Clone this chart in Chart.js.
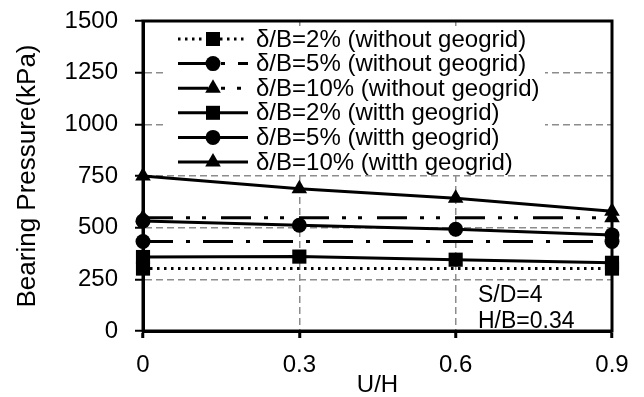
<!DOCTYPE html>
<html>
<head>
<meta charset="utf-8">
<script src="https://cdn.jsdelivr.net/npm/chart.js@4"></script>
<style>
  body { margin: 0; background: #fff; }
  canvas { display: block; }
</style>
</head>
<body>
<canvas id="pressureChart" width="644" height="397"></canvas>
<script>
// U/H positions
const uhWith = [0, 0.3, 0.6, 0.9];
const uhWithout = [0, 0.9];

// bearing pressure (kPa) with geogrid
const with2 = [358, 360, 345, 330];
const with5 = [532, 512, 492, 465];
const with10 = [750, 688, 642, 580];

// bearing pressure (kPa) without geogrid
const without2 = [302, 302];
const without5 = [433, 433];
const without10 = [548, 548];

const xTicks = [0, 0.3, 0.6, 0.9];
const yTicks = [0, 250, 500, 750, 1000, 1250, 1500];

const legendLabels = [
    "δ/B=2% (without geogrid)",
    "δ/B=5% (without geogrid)",
    "δ/B=10% (without geogrid)",
    "δ/B=2% (witth geogrid)",
    "δ/B=5% (witth geogrid)",
    "δ/B=10% (witth geogrid)"
];

const FONT = "'Liberation Sans', Arial, sans-serif";

const toPoints = (xs, ys) => xs.map((x, i) => ({ x: x, y: ys[i] }));

function series(label, xs, ys, marker, dash) {
    return {
        label: label,
        data: toPoints(xs, ys),
        showLine: true,
        borderColor: '#000',
        backgroundColor: '#000',
        borderWidth: 3,
        borderDash: dash,
        pointStyle: marker,
        pointRadius: marker === 'rect' ? 10 : (marker === 'triangle' ? 9 : 7.5),
        pointBorderWidth: 0,
        clip: false
    };
}

const datasets = [
    series(legendLabels[0], uhWithout, without2, 'rect', [2.5, 4.5]),
    series(legendLabels[1], uhWithout, without5, 'circle', [30, 13, 4, 13]),
    series(legendLabels[2], uhWithout, without10, 'triangle', [30, 13, 4, 12, 4, 15]),
    series(legendLabels[3], uhWith, with2, 'rect', []),
    series(legendLabels[4], uhWith, with5, 'circle', []),
    series(legendLabels[5], uhWith, with10, 'triangle', [])
];

function drawMarker(ctx, style, x, y) {
    ctx.beginPath();
    if (style === 'rect') {
        ctx.rect(x - 7, y - 7, 14, 14);
    } else if (style === 'circle') {
        ctx.arc(x, y, 7.5, 0, Math.PI * 2);
    } else {
        ctx.moveTo(x, y - 9);
        ctx.lineTo(x + 7.8, y + 4.5);
        ctx.lineTo(x - 7.8, y + 4.5);
        ctx.closePath();
    }
    ctx.fill();
}

// frame round the plot area plus the legend box inside it
const framePlugin = {
    id: 'frame',
    beforeDatasetsDraw(chart) {
        const { ctx, chartArea: a } = chart;
        ctx.save();
        ctx.fillStyle = '#fff';
        ctx.fillRect(167, 26, 378, 146);
        ctx.strokeStyle = '#000';
        ctx.lineWidth = 3;
        ctx.strokeRect(a.left, a.top, a.right - a.left, a.bottom - a.top);

        ctx.fillStyle = '#000';
        ctx.font = '24px ' + FONT;
        ctx.textBaseline = 'middle';
        chart.data.datasets.forEach((ds, i) => {
            const y = 39 + i * 24.6;
            ctx.setLineDash(ds.borderDash);
            ctx.lineWidth = 3;
            ctx.beginPath();
            ctx.moveTo(178, y);
            ctx.lineTo(248, y);
            ctx.stroke();
            ctx.setLineDash([]);
            drawMarker(ctx, ds.pointStyle, 213, y);
            ctx.fillText(ds.label, 256, y + 1);
        });
        ctx.restore();
    },
    afterDatasetsDraw(chart) {
        const { ctx } = chart;
        ctx.save();
        ctx.fillStyle = '#000';
        ctx.font = '23px ' + FONT;
        ctx.textBaseline = 'middle';
        ctx.fillText('S/D=4', 478, 296);
        ctx.fillText('H/B=0.34', 478, 322);
        ctx.restore();
    }
};

new Chart(document.getElementById('pressureChart'), {
    type: 'scatter',
    data: { datasets: datasets },
    options: {
        responsive: false,
        animation: false,
        layout: { padding: { top: 21, right: 32, left: 0, bottom: 0 } },
        plugins: {
            legend: { display: false },
            tooltip: { enabled: false }
        },
        scales: {
            x: {
                type: 'linear',
                min: 0,
                max: 0.9,
                afterBuildTicks: axis => { axis.ticks = xTicks.map(v => ({ value: v })); },
                afterFit: axis => {
                    axis.height = 66;
                    axis.paddingLeft = 0;
                    axis.paddingRight = 0;
                },
                ticks: {
                    color: '#000',
                    padding: 13,
                    font: { family: FONT, size: 24 },
                    callback: v => String(v)
                },
                grid: {
                    color: '#8c8c8c',
                    lineWidth: 1.5,
                    tickLength: 7,
                    tickColor: '#000',
                    tickWidth: 3
                },
                border: { display: true, color: '#000', width: 3, dash: [7, 4] },
                title: {
                    display: true,
                    text: 'U/H',
                    color: '#000',
                    font: { family: FONT, size: 24, lineHeight: 1 },
                    padding: { top: 0, bottom: 0 }
                }
            },
            y: {
                min: 0,
                max: 1500,
                afterBuildTicks: axis => { axis.ticks = yTicks.map(v => ({ value: v })); },
                afterFit: axis => {
                    axis.width = 143;
                    axis.paddingTop = 0;
                    axis.paddingBottom = 0;
                },
                ticks: {
                    color: '#000',
                    padding: 17,
                    font: { family: FONT, size: 24 },
                    callback: v => String(v)
                },
                grid: {
                    color: '#8c8c8c',
                    lineWidth: 1.5,
                    tickLength: 8,
                    tickColor: '#000',
                    tickWidth: 2
                },
                border: { display: true, color: '#000', width: 3, dash: [7, 4] },
                title: {
                    display: true,
                    text: 'Bearing Pressure(kPa)',
                    color: '#000',
                    font: { family: FONT, size: 26, lineHeight: 1 },
                    padding: { top: 15, bottom: 0 }
                }
            }
        }
    },
    plugins: [framePlugin]
});
</script>
</body>
</html>
